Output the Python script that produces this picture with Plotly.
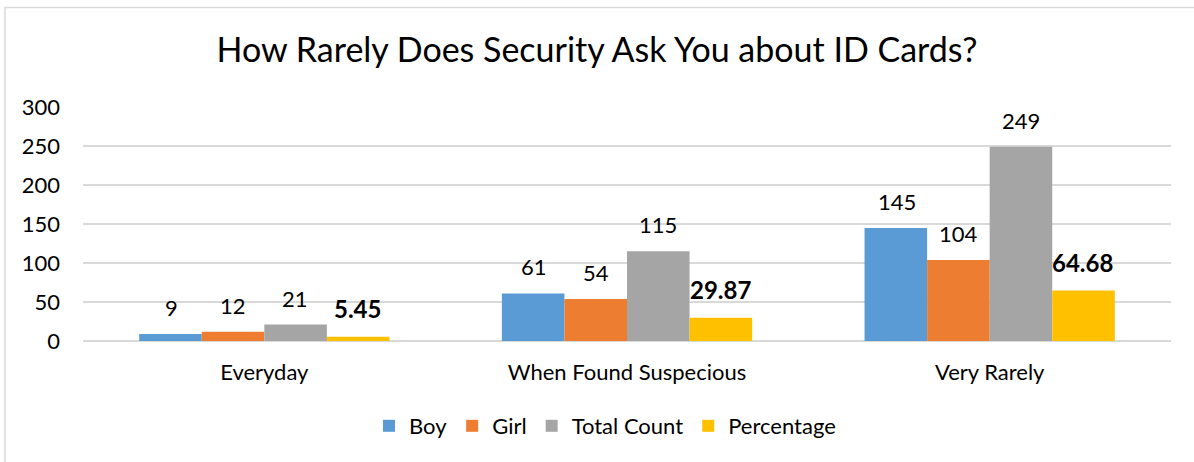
import plotly.graph_objects as go

categories = ["Everyday", "When Found Suspecious", "Very Rarely"]
boy = [9, 61, 145]
girl = [12, 54, 104]
total_count = [21, 115, 249]
percentage = [5.45, 29.87, 64.68]
y_ticks = [0, 50, 100, 150, 200, 250, 300]

series = [
    ("Boy", boy, "#5B9BD5", False),
    ("Girl", girl, "#ED7D31", False),
    ("Total Count", total_count, "#A5A5A5", False),
    ("Percentage", percentage, "#FFC000", True),
]

FONT = "Lato"
fig = go.Figure()
annotations = []
bar_px = 62
n = len(series)
for i, (name, vals, color, bold) in enumerate(series):
    fig.add_trace(go.Bar(x=categories, y=vals, name=name, marker_color=color,
                         marker_line_width=0))
    shift = (i - (n - 1) / 2) * bar_px
    for c, v in zip(categories, vals):
        txt = f"<b>{v}</b>" if bold else str(v)
        annotations.append(dict(
            x=c, y=v, xref="x", yref="y", text=txt, showarrow=False,
            xshift=shift, yshift=12 if bold else 11, yanchor="bottom",
            font=dict(family=FONT, size=24 if bold else 22, color="#000000")))

# outer chart border
shapes = [dict(type="rect", xref="paper", yref="paper",
               x0=(5 - 83) / 1088, x1=1.5, y0=-2, y1=1 + (107 - 7.5) / 234,
               line=dict(color="#D9D9D9", width=1.5), fillcolor="rgba(0,0,0,0)",
               layer="below")]

fig.update_layout(
    width=1194, height=462,
    margin=dict(l=83, r=23, t=107, b=121),
    paper_bgcolor="white", plot_bgcolor="white",
    font=dict(family=FONT, color="#000000"),
    title=dict(text="How Rarely Does Security Ask You about ID Cards?",
               x=0.5, xanchor="center", y=1 - 50 / 462, yanchor="middle",
               font=dict(family=FONT, size=34, color="#000000")),
    barmode="group", bargap=0.31, bargroupgap=0,
    showlegend=True,
    legend=dict(orientation="h", x=0.5 - 22 / 1088, xanchor="center",
                y=(341 - 426) / 234, yanchor="middle",
                font=dict(family=FONT, size=22, color="#000000"),
                itemwidth=30, traceorder="normal"),
    annotations=annotations,
    shapes=shapes,
)
fig.update_xaxes(showgrid=False, showline=False, ticks="",
                 tickfont=dict(family=FONT, size=22, color="#000000"),
                 ticklabelstandoff=16)
fig.update_yaxes(range=[0, 300], tickvals=y_ticks, showgrid=True,
                 gridcolor="#D9D9D9", gridwidth=1.5, zeroline=True,
                 zerolinecolor="#D9D9D9", zerolinewidth=1.5, showline=False,
                 ticks="", tickfont=dict(family=FONT, size=22, color="#000000"),
                 ticklabelstandoff=22)

fig.write_html("out.html")
